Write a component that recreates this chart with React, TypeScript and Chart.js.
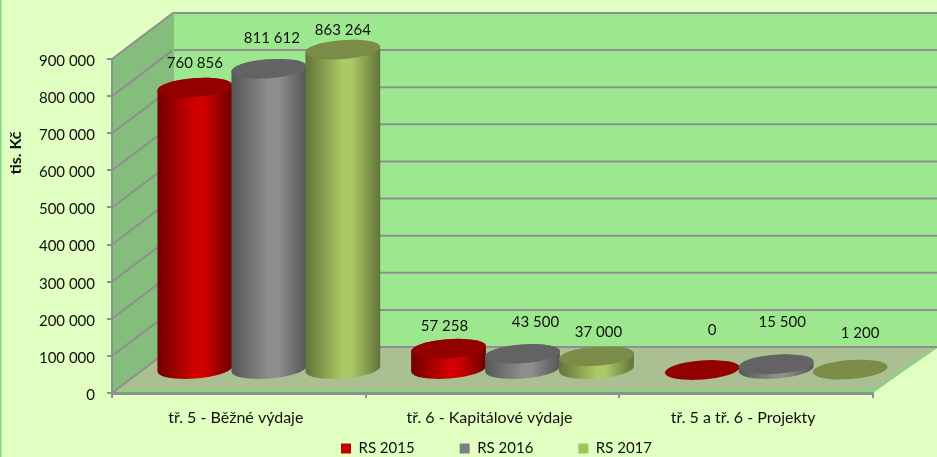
import React, { useEffect, useRef } from "react";
import { Chart, registerables } from "chart.js";

Chart.register(...registerables);

const categories = ["tř. 5 - Běžné výdaje", "tř. 6 - Kapitálové výdaje", "tř. 5 a tř. 6 - Projekty"];
const rs2015 = [760856, 57258, 0];
const rs2016 = [811612, 43500, 15500];
const rs2017 = [863264, 37000, 1200];
const seriesNames = ["RS 2015", "RS 2016", "RS 2017"];
const yTitle = "tis. Kč";

const FONT = "Lato";
const TEXT = "#111111";
const GRID = "#8f8f8f";
const DEPTH_X = 62;
const DEPTH_Y = 46;
const CYL_RY = 9.5;
const TILT = -0.075;

const palettes = [
  { flat: "#C00000", edge: "#6e0000", mid: "#d20000", top: "#930000" },
  { flat: "#7F7F7F", edge: "#565656", mid: "#8e8e8e", top: "#636363" },
  { flat: "#A3BF5F", edge: "#62733a", mid: "#abc965", top: "#7a8c47" },
];

// manual data-label nudges (dx, dy from the top of the cylinder), as in the original
const labelNudge = [
  [[0, -15], [3, -21], [0, -10]],
  [[-4, -13], [13, -22], [2, -15]],
  [[10, -30], [6, -33], [10, -27]],
];

const fmt = (v: number) => String(v).replace(/\B(?=(\d{3})+$)/g, " ");

const scene = {
  id: "scene",
  beforeDraw(chart: any) {
    const { ctx, width, height, chartArea: a, scales } = chart;
    const y = scales.y;
    ctx.save();
    ctx.fillStyle = "#E0FFC0";
    ctx.fillRect(0, 0, width, height);
    ctx.fillStyle = "#7FD97F";
    ctx.fillRect(0, 0, 1.5, height);

    const backL = a.left + DEPTH_X - 1;
    const backB = a.bottom - DEPTH_Y;
    const backT = a.top - DEPTH_Y;

    ctx.fillStyle = "#9DE88F";
    ctx.fillRect(backL, backT, width - backL, backB - backT);

    ctx.fillStyle = "#85BD7C";
    ctx.beginPath();
    ctx.moveTo(a.left, a.bottom);
    ctx.lineTo(a.left, a.top);
    ctx.lineTo(backL, backT);
    ctx.lineTo(backL, backB);
    ctx.closePath();
    ctx.fill();

    ctx.fillStyle = "#AABF92";
    ctx.beginPath();
    ctx.moveTo(a.left, a.bottom);
    ctx.lineTo(a.right, a.bottom);
    ctx.lineTo(a.right + DEPTH_X + 2, backB);
    ctx.lineTo(backL, backB);
    ctx.closePath();
    ctx.fill();

    ctx.strokeStyle = "#7FD97F";
    ctx.lineWidth = 2;
    ctx.beginPath();
    ctx.moveTo(a.left, a.bottom - 2);
    ctx.lineTo(a.right, a.bottom - 2);
    ctx.lineTo(a.right + DEPTH_X + 2, backB);
    ctx.stroke();

    ctx.strokeStyle = GRID;
    ctx.lineWidth = 2;
    y.ticks.forEach((t: any) => {
      const py = y.getPixelForValue(t.value);
      ctx.beginPath();
      ctx.moveTo(a.left, py);
      ctx.lineTo(backL, py - DEPTH_Y);
      ctx.lineTo(width, py - DEPTH_Y);
      ctx.stroke();
    });
    ctx.beginPath();
    ctx.moveTo(backL, backT);
    ctx.lineTo(backL, backB);
    ctx.strokeStyle = "#85BD7C";
    ctx.stroke();

    ctx.fillStyle = TEXT;
    ctx.font = `bold 16px ${FONT}`;
    ctx.textAlign = "center";
    ctx.textBaseline = "middle";
    ctx.translate(16, 153);
    ctx.rotate(-Math.PI / 2);
    ctx.fillText(yTitle, 0, 0);
    ctx.restore();
  },
  beforeDatasetsDraw(chart: any) {
    const { ctx } = chart;
    ctx.save();
    chart.data.datasets.forEach((_: any, di: number) => {
      const pal = palettes[di];
      chart.getDatasetMeta(di).data.forEach((bar: any) => {
        const cx = bar.x + DEPTH_X / 2 - 1;
        const baseY = bar.base - DEPTH_Y / 2;
        const topY = bar.y - DEPTH_Y / 2;
        const rx = bar.width / 2 + 0.5;
        if (baseY - topY > 0.5) {
          const g = ctx.createLinearGradient(cx - rx, 0, cx + rx, 0);
          g.addColorStop(0, pal.edge);
          g.addColorStop(0.5, pal.mid);
          g.addColorStop(0.62, pal.mid);
          g.addColorStop(1, pal.edge);
          ctx.fillStyle = g;
          ctx.beginPath();
          ctx.ellipse(cx, baseY, rx, CYL_RY, TILT, 0, Math.PI);
          ctx.ellipse(cx, topY, rx, CYL_RY, TILT, Math.PI, Math.PI * 2);
          ctx.closePath();
          ctx.fill();
        }
        ctx.fillStyle = pal.top;
        ctx.beginPath();
        ctx.ellipse(cx, topY, rx, CYL_RY, TILT, 0, Math.PI * 2);
        ctx.fill();
      });
    });

    ctx.fillStyle = TEXT;
    ctx.font = `15px ${FONT}`;
    ctx.textAlign = "center";
    ctx.textBaseline = "middle";
    chart.data.datasets.forEach((ds: any, di: number) => {
      chart.getDatasetMeta(di).data.forEach((bar: any, ci: number) => {
        const [dx, dy] = labelNudge[ci][di];
        const cx = bar.x + DEPTH_X / 2 - 1;
        const top = bar.y - DEPTH_Y / 2 - CYL_RY;
        ctx.fillText(fmt(ds.data[ci]), cx + dx, top + dy);
      });
    });
    ctx.restore();
    return false;
  },
  afterLayout(chart: any) {
    chart.legend.left += 4;
    chart.legend.right += 4;
    chart.legend.top -= 2;
    chart.legend.bottom -= 2;
    chart.scales.x.bottom = chart.height;
  },
};

export default function App() {
  const ref = useRef<HTMLCanvasElement>(null);
  useEffect(() => {
    const chart = new Chart(ref.current as HTMLCanvasElement, {
      type: "bar",
      data: {
        labels: categories,
        datasets: [rs2015, rs2016, rs2017].map((data, i) => ({
          label: seriesNames[i],
          data,
          backgroundColor: palettes[i].flat,
          barPercentage: 1,
          categoryPercentage: 0.875,
        })),
      },
      plugins: [scene],
      options: {
        animation: false,
        responsive: false,
        layout: { padding: { left: 0, right: 64, top: 59, bottom: 0 } },
        plugins: {
          tooltip: { enabled: false },
          title: { display: false },
          legend: {
            position: "bottom",
            fullSize: false,
            maxHeight: 59,
            labels: {
              boxWidth: 10,
              boxHeight: 10,
              padding: 45,
              color: TEXT,
              font: { family: FONT, size: 15 },
            },
          },
        },
        scales: {
          x: {
            afterFit: (s: any) => { s.height = 5; },
            grid: { drawOnChartArea: false, drawTicks: true, tickLength: 5, tickColor: GRID, lineWidth: 2 },
            border: { color: GRID, width: 3 },
            ticks: {
              color: TEXT, padding: 10, maxRotation: 0, autoSkip: false, labelOffset: -3,
              font: { family: FONT, size: 16 },
            },
          },
          y: {
            min: 0,
            max: 900000,
            afterFit: (s: any) => { s.width = 112; },
            grid: { drawOnChartArea: false, drawTicks: true, tickLength: 5, tickColor: GRID, lineWidth: 2 },
            border: { color: GRID, width: 2 },
            ticks: {
              stepSize: 100000, color: TEXT, padding: 12, labelOffset: 2,
              font: { family: FONT, size: 15 },
              callback: (v: any) => fmt(Number(v)),
            },
          },
        },
      },
    } as any);
    return () => chart.destroy();
  }, []);
  return (
    <div style={{ position: "absolute", left: 0, top: 0, width: 937, height: 457 }}>
      <canvas ref={ref} width={937} height={457} style={{ display: "block" }} />
    </div>
  );
}
